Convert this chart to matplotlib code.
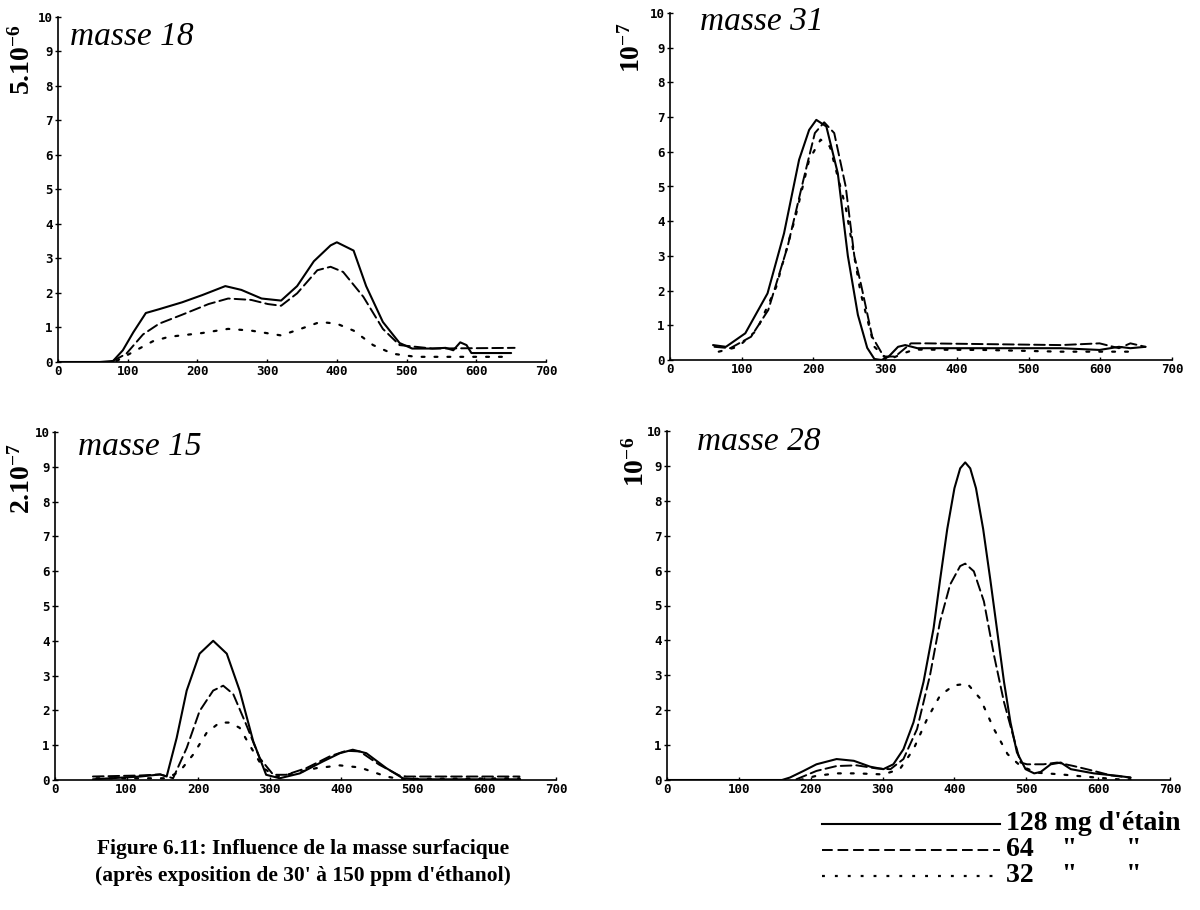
import matplotlib
matplotlib.use("Agg")
import matplotlib.pyplot as plt

plt.rcParams['mathtext.fontset'] = 'custom'
plt.rcParams['mathtext.rm'] = 'Liberation Serif:bold'
plt.rcParams['mathtext.it'] = 'Liberation Serif:bold'
plt.rcParams['mathtext.bf'] = 'Liberation Serif:bold'
plt.rcParams['mathtext.default'] = 'rm'

# ---------------- data ----------------
x_ticks = [0, 100, 200, 300, 400, 500, 600, 700]
y_ticks = [0, 1, 2, 3, 4, 5, 6, 7, 8, 9, 10]
legend_labels = ["128 mg d'étain", '64    "       "', '32    "       "']

# masse 18
m18_x_128 = [0, 60, 79, 93, 108, 126, 145, 178, 207, 240, 263, 292, 320, 343, 367, 391, 400, 424, 442, 466, 490, 508, 537, 556, 567, 577, 586, 593, 650]
m18_y_128 = [0.0, 0.0, 0.03, 0.34, 0.86, 1.42, 1.53, 1.73, 1.94, 2.20, 2.09, 1.84, 1.78, 2.20, 2.92, 3.38, 3.47, 3.23, 2.20, 1.16, 0.55, 0.39, 0.39, 0.41, 0.34, 0.57, 0.49, 0.26, 0.26]
m18_x_64 = [79, 98, 122, 145, 178, 216, 244, 277, 301, 320, 343, 372, 391, 409, 438, 466, 490, 537, 655]
m18_y_64 = [0.03, 0.24, 0.80, 1.11, 1.37, 1.68, 1.84, 1.80, 1.68, 1.63, 1.99, 2.66, 2.76, 2.61, 1.89, 0.96, 0.49, 0.39, 0.41]
m18_x_32 = [84, 112, 136, 159, 207, 244, 277, 320, 348, 376, 400, 424, 452, 480, 513, 650]
m18_y_32 = [0.03, 0.34, 0.60, 0.73, 0.84, 0.96, 0.91, 0.77, 0.96, 1.16, 1.11, 0.91, 0.49, 0.24, 0.15, 0.15]

# masse 31
m31_x_128 = [60, 78, 105, 136, 159, 180, 194, 204, 218, 234, 248, 262, 275, 285, 295, 305, 318, 328, 345, 438, 545, 599, 626, 642, 663]
m31_y_128 = [0.43, 0.38, 0.77, 1.92, 3.65, 5.77, 6.63, 6.92, 6.73, 5.38, 3.00, 1.30, 0.35, 0.03, 0.00, 0.10, 0.38, 0.43, 0.34, 0.34, 0.34, 0.29, 0.38, 0.34, 0.38]
m31_x_64 = [62, 84, 113, 137, 164, 186, 202, 215, 229, 245, 257, 266, 282, 298, 314, 336, 357, 545, 599, 626, 642, 663]
m31_y_64 = [0.38, 0.34, 0.67, 1.44, 3.27, 5.19, 6.54, 6.85, 6.54, 5.00, 3.00, 2.21, 0.67, 0.10, 0.10, 0.48, 0.48, 0.43, 0.48, 0.34, 0.48, 0.38]
m31_x_32 = [68, 95, 121, 148, 175, 194, 210, 223, 245, 266, 285, 304, 325, 341, 438, 545, 650]
m31_y_32 = [0.24, 0.38, 0.86, 2.10, 4.13, 5.77, 6.35, 6.15, 4.40, 1.92, 0.38, 0.00, 0.19, 0.30, 0.29, 0.24, 0.24]

# masse 15
m15_x_128 = [53, 119, 147, 156, 170, 184, 202, 221, 240, 258, 277, 295, 314, 342, 374, 398, 416, 435, 463, 486, 505, 650]
m15_y_128 = [0.02, 0.10, 0.16, 0.10, 1.21, 2.57, 3.63, 4.00, 3.63, 2.57, 1.11, 0.15, 0.05, 0.19, 0.53, 0.77, 0.87, 0.77, 0.34, 0.05, 0.02, 0.02]
m15_x_64 = [53, 119, 147, 165, 184, 202, 221, 235, 249, 267, 286, 305, 323, 351, 384, 407, 426, 453, 481, 491, 649]
m15_y_64 = [0.10, 0.13, 0.16, 0.05, 0.92, 1.98, 2.57, 2.71, 2.47, 1.60, 0.63, 0.15, 0.15, 0.34, 0.68, 0.84, 0.82, 0.44, 0.13, 0.10, 0.10]
m15_x_32 = [58, 156, 174, 193, 212, 230, 244, 258, 272, 291, 309, 333, 365, 398, 426, 463, 481, 649]
m15_y_32 = [0.05, 0.05, 0.24, 0.73, 1.36, 1.65, 1.65, 1.50, 1.00, 0.34, 0.10, 0.19, 0.34, 0.42, 0.36, 0.10, 0.03, 0.05]

# masse 28
m28_x_128 = [0, 160, 171, 190, 208, 236, 260, 283, 301, 315, 329, 343, 357, 371, 380, 390, 400, 408, 415, 422, 430, 440, 450, 459, 469, 478, 487, 499, 511, 520, 534, 548, 562, 594, 627, 645]
m28_y_128 = [0.0, 0.0, 0.07, 0.26, 0.45, 0.60, 0.55, 0.38, 0.31, 0.45, 0.88, 1.65, 2.81, 4.35, 5.73, 7.19, 8.36, 8.93, 9.10, 8.93, 8.36, 7.19, 5.73, 4.35, 2.81, 1.65, 0.79, 0.31, 0.19, 0.23, 0.45, 0.50, 0.31, 0.19, 0.12, 0.07]
m28_x_64 = [180, 208, 236, 264, 292, 311, 329, 348, 366, 380, 394, 408, 415, 427, 441, 455, 469, 483, 492, 501, 524, 543, 566, 594, 618, 645]
m28_y_64 = [0.02, 0.26, 0.40, 0.42, 0.33, 0.31, 0.60, 1.46, 3.00, 4.54, 5.60, 6.13, 6.20, 5.98, 5.12, 3.58, 2.23, 1.17, 0.50, 0.45, 0.45, 0.50, 0.40, 0.26, 0.13, 0.07]
m28_x_32 = [185, 208, 236, 264, 301, 324, 343, 362, 380, 399, 418, 436, 455, 474, 492, 515, 548, 580, 627, 645]
m28_y_32 = [0.0, 0.12, 0.19, 0.19, 0.16, 0.31, 0.88, 1.75, 2.42, 2.71, 2.76, 2.33, 1.46, 0.74, 0.40, 0.21, 0.16, 0.10, 0.02, 0.02]

panels = [
    dict(title='masse 18', unit='5.10$^{-6}$',
         series=[(m18_x_128, m18_y_128), (m18_x_64, m18_y_64), (m18_x_32, m18_y_32)]),
    dict(title='masse 31', unit='10$^{-7}$',
         series=[(m31_x_128, m31_y_128), (m31_x_64, m31_y_64), (m31_x_32, m31_y_32)]),
    dict(title='masse 15', unit='2.10$^{-7}$',
         series=[(m15_x_128, m15_y_128), (m15_x_64, m15_y_64), (m15_x_32, m15_y_32)]),
    dict(title='masse 28', unit='10$^{-6}$',
         series=[(m28_x_128, m28_y_128), (m28_x_64, m28_y_64), (m28_x_32, m28_y_32)]),
]

# ---------------- layout (pixels in a 1200x910 canvas) ----------------
W, H = 1200, 910
# (x of 0, x of 700, y of 0, y of 10)
boxes = [(58, 546, 362, 17), (670, 1172, 360, 13), (55, 556, 780, 432), (667, 1170, 780, 431)]
unit_pos = [(22, 60), (632, 48), (22, 478), (636, 462)]
title_pos = [(70, 45), (700, 30), (78, 455), (697, 450)]

styles = [dict(ls='-', lw=1.5),
          dict(ls=(0, (5.5, 2.5)), lw=1.4),
          dict(ls=(0, (1.3, 4.5)), lw=1.6)]

fig = plt.figure(figsize=(12, 9.1), dpi=100)
fig.patch.set_facecolor('white')

tick_font = dict(family='DejaVu Sans Mono', weight='bold', size=9)

for p, (x0, x7, y0, y10), (ux, uy), (tx, ty) in zip(panels, boxes, unit_pos, title_pos):
    ax = fig.add_axes([x0 / W, 1 - y0 / H, (x7 - x0) / W, (y0 - y10) / H])
    for (xs, ys), st in zip(p['series'], styles):
        ax.plot(xs, ys, color='black', solid_capstyle='round', dash_capstyle='round',
                solid_joinstyle='round', **st)
    ax.set_xlim(0, 700)
    ax.set_ylim(0, 10)
    ax.set_xticks(x_ticks)
    ax.set_yticks(y_ticks)
    ax.set_xticklabels([str(v) for v in x_ticks], fontdict=tick_font)
    ax.set_yticklabels([str(v) for v in y_ticks], fontdict=tick_font)
    for s in ('top', 'right'):
        ax.spines[s].set_visible(False)
    for s in ('left', 'bottom'):
        ax.spines[s].set_linewidth(1.2)
    ax.tick_params(axis='y', direction='inout', length=4, width=1, pad=2)
    ax.tick_params(axis='x', direction='in', length=2, width=1, pad=2)
    ax.patch.set_alpha(0)
    fig.text(ux / W, 1 - uy / H, p['unit'], rotation=90, ha='center', va='center',
             fontsize=20, family='Liberation Serif', weight='bold')
    fig.text(tx / W, 1 - ty / H, p['title'], ha='left', va='baseline',
             fontsize=24, family='Liberation Serif', style='italic')

# caption
fig.text(303 / W, 1 - 854 / H, 'Figure 6.11: Influence de la masse surfacique',
         ha='center', va='baseline', fontsize=15.5, family='Liberation Serif', weight='bold')
fig.text(303 / W, 1 - 881 / H, "(après exposition de 30' à 150 ppm d'éthanol)",
         ha='center', va='baseline', fontsize=15.5, family='Liberation Serif', weight='bold')

# legend drawn in a blank axes using the same line styles
lax = fig.add_axes([0, 0, 1, 1])
lax.set_xlim(0, W)
lax.set_ylim(H, 0)
lax.axis('off')
leg_rows = [830, 856, 882]
for row, st, lab in zip(leg_rows, styles, legend_labels):
    lax.plot([822, 1000], [row - 6, row - 6], color='black', **st)
    lax.text(1006, row, lab, ha='left', va='baseline', fontsize=20,
             family='Liberation Serif', weight='bold')

fig.savefig('out.png', dpi=100)
